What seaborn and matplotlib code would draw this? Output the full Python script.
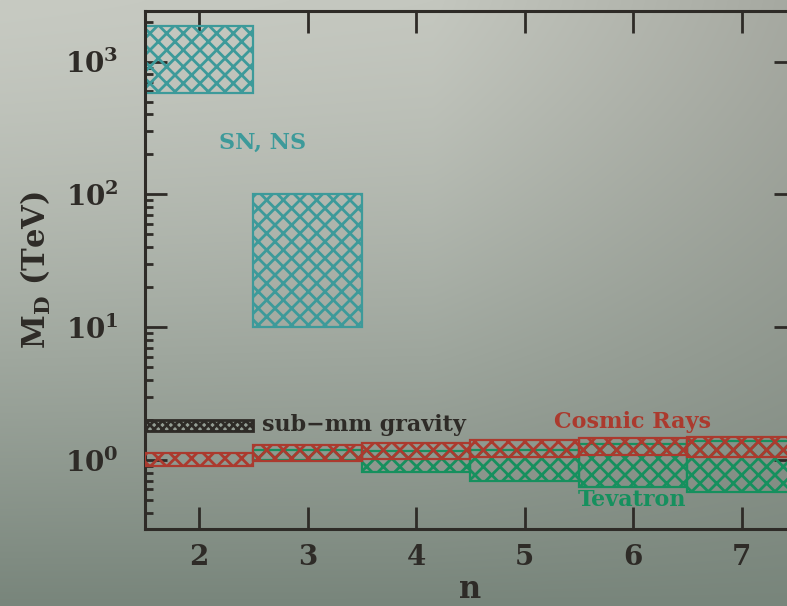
import numpy as np
import matplotlib
matplotlib.use("Agg")
import matplotlib.pyplot as plt
import seaborn as sns
from matplotlib.ticker import LogLocator, NullFormatter

# ---------------- data ----------------
sn_n = [2, 3]
sn_low = [575, 10]
sn_high = [1840, 100]

grav_n = [2]
grav_low = [1.65]
grav_high = [2.0]

cr_n = [2, 3, 4, 5, 6, 7]
cr_low = [0.90, 0.98, 1.01, 1.06, 1.09, 1.06]
cr_high = [1.135, 1.30, 1.35, 1.42, 1.47, 1.50]

tev_n = [3, 4, 5, 6, 7]
tev_low = [1.00, 0.81, 0.70, 0.625, 0.578]
tev_high = [1.19, 1.16, 1.19, 1.31, 1.38]

x_ticks = [2, 3, 4, 5, 6, 7]
x_ticklabels = ["2", "3", "4", "5", "6", "7"]
y_ticks = [1, 10, 100, 1000]
y_ticklabels = [r"$\mathbf{10^{0}}$", r"$\mathbf{10^{1}}$", r"$\mathbf{10^{2}}$", r"$\mathbf{10^{3}}$"]

# ---------------- style ----------------
sns.set_style("ticks")
plt.rcParams["font.family"] = ["DejaVu Serif", "DejaVu Sans"]
plt.rcParams["font.weight"] = "bold"
plt.rcParams["mathtext.fontset"] = "dejavuserif"
plt.rcParams["hatch.linewidth"] = 2.0

dark = "#2e2b27"
teal = "#3d9a9a"
red = "#ab3a2e"
green = "#16905e"

W, H = 787, 606
fig = plt.figure(figsize=(W / 100, H / 100), dpi=100)

# background gradient
bg = fig.add_axes([0, 0, 1, 1], zorder=-10)
xs = np.linspace(0, 1, W)
ys = np.linspace(0, 1, H)[:, None]
top_x = [0.0, 0.55, 1.0]
top_cols = np.array([[199, 202, 194], [196, 199, 191], [166, 169, 161]], float)
bottom_col = np.array([120, 133, 123], float)
img = np.zeros((H, W, 3))
t = ys ** 1.3
for c in range(3):
    top = np.interp(xs, top_x, top_cols[:, c])[None, :]
    img[:, :, c] = top * (1 - t) + bottom_col[c] * t
bg.imshow(img / 255.0, aspect="auto", extent=[0, 1, 0, 1], origin="upper")
bg.axis("off")

left = 145 / W
right = 796 / W
bottom = 1 - 529 / H
top = 1 - 10.7 / H
ax = fig.add_axes([left, bottom, right - left, top - bottom])
ax.set_facecolor("none")
ax.set_yscale("log")

def boxes(n, lo, hi, color, z, hatch="xx", lw=1.6):
    lo = np.asarray(lo, float)
    hi = np.asarray(hi, float)
    ax.bar(n, hi - lo, bottom=lo, width=1.0, align="center",
           facecolor="none", edgecolor=color, hatch=hatch,
           linewidth=lw, zorder=z)

boxes(sn_n, sn_low, sn_high, teal, 2)
boxes(tev_n, tev_low, tev_high, green, 3)
boxes(cr_n, cr_low, cr_high, red, 4)
boxes(grav_n, grav_low, grav_high, dark, 5, hatch="xxxx", lw=2.0)

ax.set_xlim(1.5, 7.5)
ax.set_ylim(0.302, 2415)

ax.set_xticks(x_ticks, labels=x_ticklabels)
ax.set_yticks(y_ticks, labels=y_ticklabels)
ax.yaxis.set_minor_locator(LogLocator(base=10, subs=np.arange(2, 10)))
ax.yaxis.set_minor_formatter(NullFormatter())
ax.xaxis.set_minor_locator(matplotlib.ticker.NullLocator())

ax.tick_params(which="both", direction="in", top=True, right=True,
               color=dark, width=2.0, labelcolor=dark)
ax.tick_params(which="major", length=16)
ax.tick_params(which="minor", length=6)
ax.tick_params(axis="x", which="major", pad=11, labelsize=20)
ax.tick_params(axis="y", which="major", pad=19, labelsize=20)
for lab in ax.get_xticklabels():
    lab.set_fontweight("bold")

for sp in ax.spines.values():
    sp.set_color(dark)
    sp.set_linewidth(2.2)

ax.set_xlabel("n", fontsize=22, fontweight="bold", color=dark, labelpad=2)
ax.set_ylabel(r"$\mathbf{M_D}$ (TeV)", fontsize=22, fontweight="bold",
              color=dark, labelpad=9)

lab_fs = 16
ax.text(2.585, 245, "SN, NS", color=teal, fontsize=lab_fs, fontweight="bold",
        ha="center", va="center")
ax.text(2.576, 1.84, "sub\u2212mm gravity", color=dark, fontsize=lab_fs,
        fontweight="bold", ha="left", va="center")
ax.text(5.99, 1.94, "Cosmic Rays", color=red, fontsize=lab_fs,
        fontweight="bold", ha="center", va="center")
ax.text(5.99, 0.50, "Tevatron", color=green, fontsize=lab_fs,
        fontweight="bold", ha="center", va="center")

fig.savefig("out.png", dpi=100)
